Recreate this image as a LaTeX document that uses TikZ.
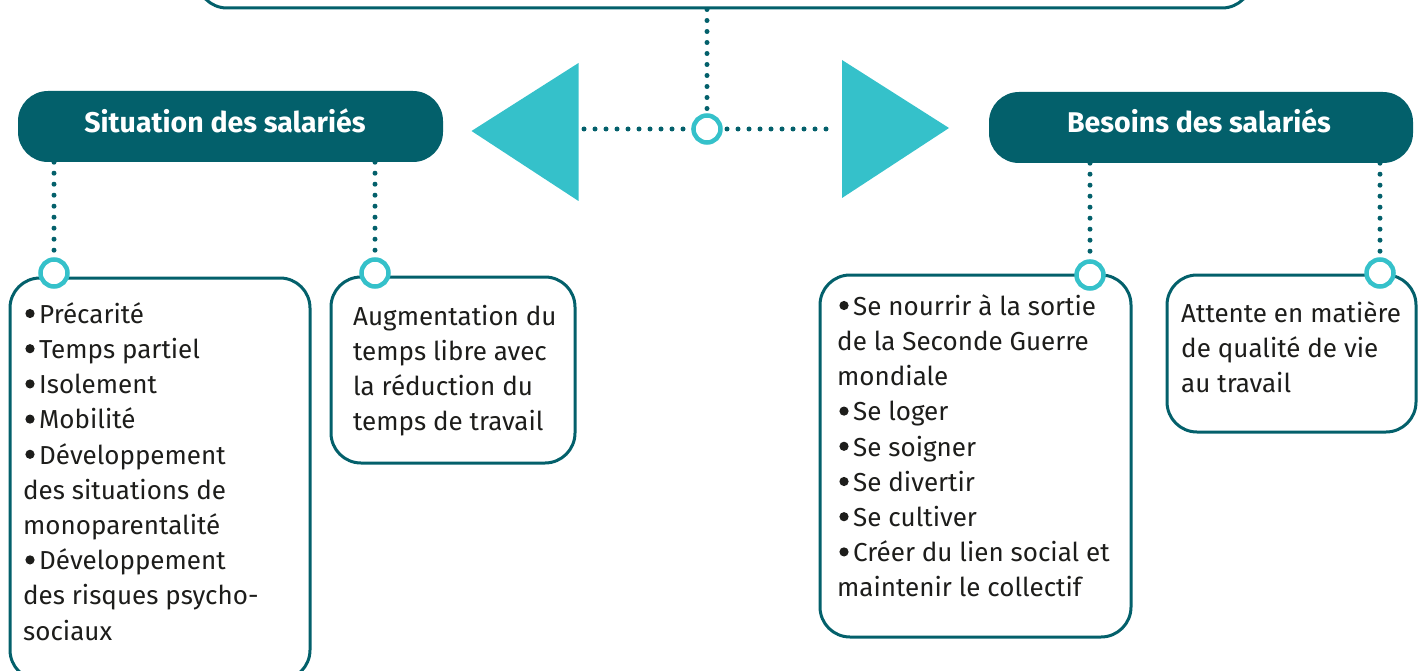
\documentclass[tikz,border=0pt]{standalone}
\usepackage{fontspec}
\setmainfont{Fira Sans}
\definecolor{darkteal}{HTML}{03606B}
\definecolor{cyanc}{HTML}{35C1CA}
\definecolor{txtc}{HTML}{1D1D1B}
\newcommand\bl{\hspace*{16pt}}
\begin{document}
\begin{tikzpicture}[x=1pt,y=-1pt,
  box/.style={draw=darkteal,line width=3pt,rounded corners=30pt,fill=white,inner sep=0pt},
  header/.style={fill=darkteal,rounded corners=30pt,inner sep=0pt},
  htext/.style={text=white,font=\bfseries\fontsize{28.5}{32}\selectfont,anchor=base,inner sep=0pt},
  btext/.style={text=txtc,font=\fontsize{26}{35.2}\selectfont,align=left,anchor=north west,inner sep=0pt},
  ring/.style={circle,draw=cyanc,line width=4.5pt,fill=white,minimum size=27pt,inner sep=0pt},
  dots/.style={draw=darkteal,line width=5pt,line cap=round,dash pattern=on 0pt off 11pt},
  tri/.style={fill=cyanc},
  bdot/.style={fill=txtc}]
\useasboundingbox (0,0) rectangle (1426,671);
% top box (partly visible)
\node[box,minimum width=1055pt,minimum height=80pt] (top) at (724.5,-32) {};
% headers
\node[header,minimum width=425pt,minimum height=71pt] (hl) at (230.5,126.5) {};
\node[htext] (hlt) at (225,133) {Situation des salariés};
\node[header,minimum width=424pt,minimum height=71pt] (hr) at (1201,127.5) {};
\node[htext] (hrt) at (1199,133) {Besoins des salariés};
% triangles
\path[tri] (471.5,131) -- (578.5,63) -- (578.5,201) -- cycle;
\path[tri] (842,60) -- (949,128) -- (842,198) -- cycle;
\coordinate (tl) at (584,129);
\coordinate (tr) at (836,129);
% boxes
\node[box,minimum width=300pt,minimum height=402pt] (b1) at (160,479) {};
\node[box,minimum width=244pt,minimum height=186pt] (b2) at (453,370) {};
\node[box,minimum width=311pt,minimum height=362pt] (b3) at (975.5,456) {};
\node[box,minimum width=249pt,minimum height=157pt] (b4) at (1291.5,353.5) {};
% rings (positions)
\coordinate (p0) at (707,129);
\coordinate (p1) at (54,273);
\coordinate (p2) at (375,273);
\coordinate (p3) at (1090,275);
\coordinate (p4) at (1380,273);
% dotted connectors
\draw[dots] (top.south -| p0) -- (p0);
\draw[dots] (tl) -- (p0) -- (tr);
\draw[dots] (hl.south -| p1) -- (p1);
\draw[dots] (hl.south -| p2) -- (p2);
\draw[dots] (hr.south -| p3) -- (p3);
\draw[dots] (hr.south -| p4) -- (p4);
% rings
\node[ring] (c0) at (p0) {};
\node[ring] (c1) at (p1) {};
\node[ring] (c2) at (p2) {};
\node[ring] (c3) at (p3) {};
\node[ring] (c4) at (p4) {};
% texts
\node[btext] (t1) at (23,298.4) {\strut\bl Précarité\\\bl Temps partiel\\\bl Isolement\\\bl Mobilité\\\bl Développement\\des situations de\\monoparentalité\\\bl Développement\\des risques psycho-\\sociaux};
\node[btext] (t2) at (353,300.4) {\strut Augmentation du\\temps libre avec\\la réduction du\\temps de travail};
\node[btext] (t3) at (837,290.4) {\strut\bl Se nourrir à la sortie\\de la Seconde Guerre\\mondiale\\\bl Se loger\\\bl Se soigner\\\bl Se divertir\\\bl Se cultiver\\\bl Créer du lien social et\\maintenir le collectif};
\node[btext] (t4) at (1181,297.4) {\strut Attente en matière\\de qualité de vie\\au travail};
% bullets
\foreach \k in {0,1,2,3,4,7} \fill[bdot] (30,323-9.5+35.2*\k) circle (4.6);
\foreach \k in {0,3,4,5,6,7} \fill[bdot] (844,315-9.5+35.2*\k) circle (4.6);
\end{tikzpicture}
\end{document}
